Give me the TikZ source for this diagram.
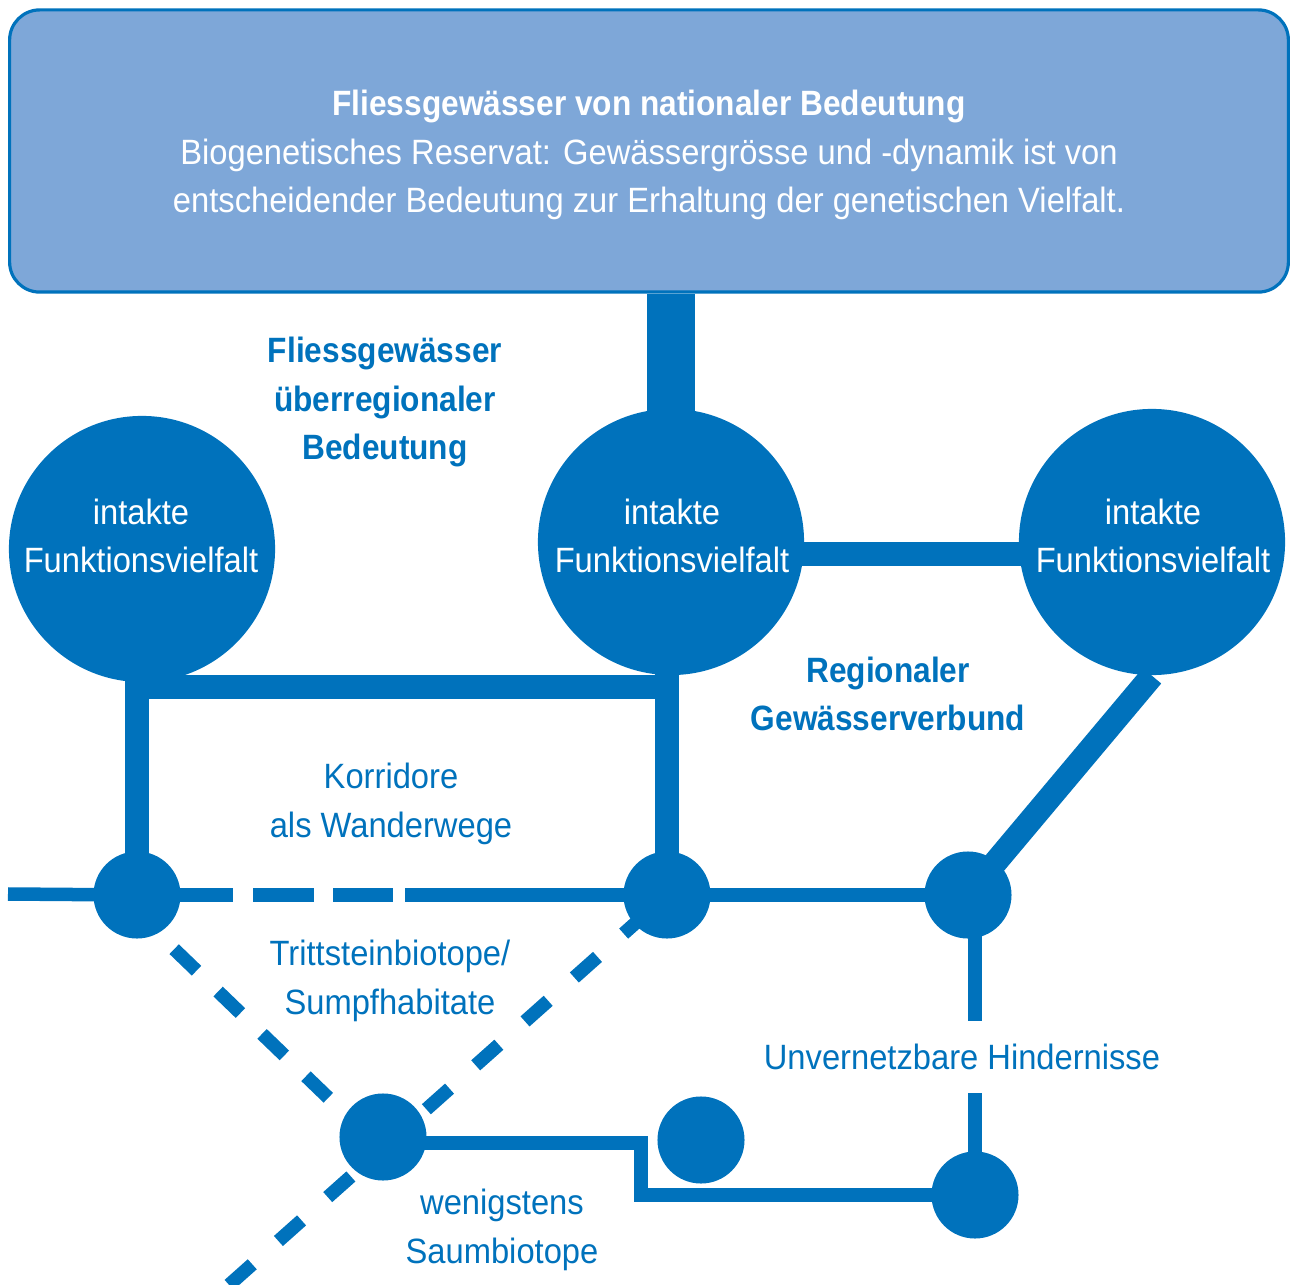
\documentclass[tikz,border=0pt]{standalone}
\usepackage{fontspec}
\setmainfont{Liberation Sans}[FakeStretch=0.93,BoldFeatures={FakeStretch=0.9}]
\usepackage{xcolor}
\usepackage{tikz}
\usetikzlibrary{positioning,backgrounds}
\definecolor{gwblau}{RGB}{0,114,188}
\definecolor{gwhell}{RGB}{126,167,216}
\tikzstyle{dick} = [draw=gwblau,line width=0.24cm]
\tikzstyle{duenn} = [draw=gwblau,line width=0.135cm]

\begin{document}
\begin{tikzpicture}[x=0.01cm, y=-0.01cm, font=\fontsize{10}{13.8}\selectfont]
	\tikzstyle{grosskreis}=[circle,fill=gwblau,minimum size=2.66cm,inner sep=0pt]
	\tikzstyle{kleinkreis}=[circle,fill=gwblau,minimum size=0.87cm,inner sep=0pt]
	\tikzstyle{kreistext}=[text=white,align=center]
	\tikzstyle{blau}=[text=gwblau,align=center]
	\tikzstyle{blaufett}=[text=gwblau,align=center,font=\fontsize{10}{13.8}\selectfont\bfseries]
	\useasboundingbox (0,0) rectangle (1290,1285);
	% Kopf
	\node[draw=gwblau,fill=gwhell,rounded corners=0.3cm,line width=0.9pt,minimum width=12.78cm,minimum height=2.82cm,text=white,align=center] (national) at (649,151)
		{\rule{0pt}{0.34cm}\textbf{Fliessgewässer von nationaler Bedeutung}\\Biogenetisches Reservat: Gewässergrösse und -dynamik ist von\\entscheidender Bedeutung zur Erhaltung der genetischen Vielfalt.};
	% grosse Kreise
	\node[grosskreis]   (lbig)     at (142,549)  {};
	\node[grosskreis]   (mbig)     at (671,542)  {};
	\node[grosskreis]   (rbig)     at (1152,542) {};
	\node[kreistext]    (ltext)    at (141,536)  {intakte\\Funktionsvielfalt};
	\node[kreistext]    (mtext)    at (672,536)  {intakte\\Funktionsvielfalt};
	\node[kreistext]    (rtext)    at (1153,536) {intakte\\Funktionsvielfalt};
	% kleine Kreise
	\node[kleinkreis]   (lknoten)  at (137,895)  {};
	\node[kleinkreis]   (mknoten)  at (667,895)  {};
	\node[kleinkreis]   (rknoten)  at (968,895)  {};
	\node[kleinkreis]   (saum)     at (383,1137) {};
	\node[kleinkreis]   (insel)    at (701,1140) {};
	\node[kleinkreis]   (unten)    at (975,1195) {};
	% Beschriftung
	\node[blaufett]     (ueberreg) at (385,402)  {Fliessgewässer\\überregionaler\\Bedeutung};
	\node[blaufett]     (regional) at (888,694)  {Regionaler\\Gewässerverbund};
	\node[blau]         (korridor) at (391,804)  {Korridore\\als Wanderwege};
	\node[blau]         (tritt)    at (390,981)  {Trittsteinbiotope/\\Sumpfhabitate};
	\node[blau]         (wenig)    at (502,1230) {wenigstens\\Saumbiotope};
	\node[blau,minimum height=0.71cm,inner sep=0pt] (hind) at (962,1057) {Unvernetzbare Hindernisse};
	\coordinate (west)  at (8,894);
	\coordinate (sued)  at (229,1285);
	\coordinate (quer)  at (0,687);
	\coordinate (band)  at (0,554);
	\coordinate (knick) at (641,1143);
	\begin{pgfonlayer}{background}
	\path[dick,line width=0.47cm] (mbig.center) -- (mbig.center |- national.south);
	\path[dick] (lknoten.center) -- (lknoten.center |- lbig.center);
	\path[dick] (mknoten.center) -- (mknoten.center |- mbig.center);
	\path[dick] (lknoten |- quer) -- (mknoten |- quer);
	\path[dick] (mbig |- band) -- (rbig |- band);
	\path[dick] (rknoten.center) -- (rbig.south);
	\path[duenn] (west) -- (lknoten.center);
	\path[duenn,dash pattern=on 0.96cm off 0.2cm on 0.61cm off 0.19cm on 0.6cm off 0.12cm on 5cm] (lknoten.center) -- (mknoten.center);
	\path[duenn] (mknoten.center) -- (rknoten.center);
	\path[duenn,dash pattern=on 0.31cm off 0.3cm,dash phase=0.44cm] ([xshift=-0.19cm]lknoten.center) -- ([xshift=-0.14cm]saum.center);
	\path[duenn,dash pattern=on 0.31cm off 0.35cm,dash phase=0.39cm] (mknoten.center) -- (sued);
	\path[duenn] (unten |- rknoten) -- (unten |- hind.north);
	\path[duenn] (unten.center) -- (unten |- hind.south);
	\path[duenn] (saum.center |- knick) -- (knick) |- (unten.center);
	\end{pgfonlayer}
\end{tikzpicture}
\end{document}
